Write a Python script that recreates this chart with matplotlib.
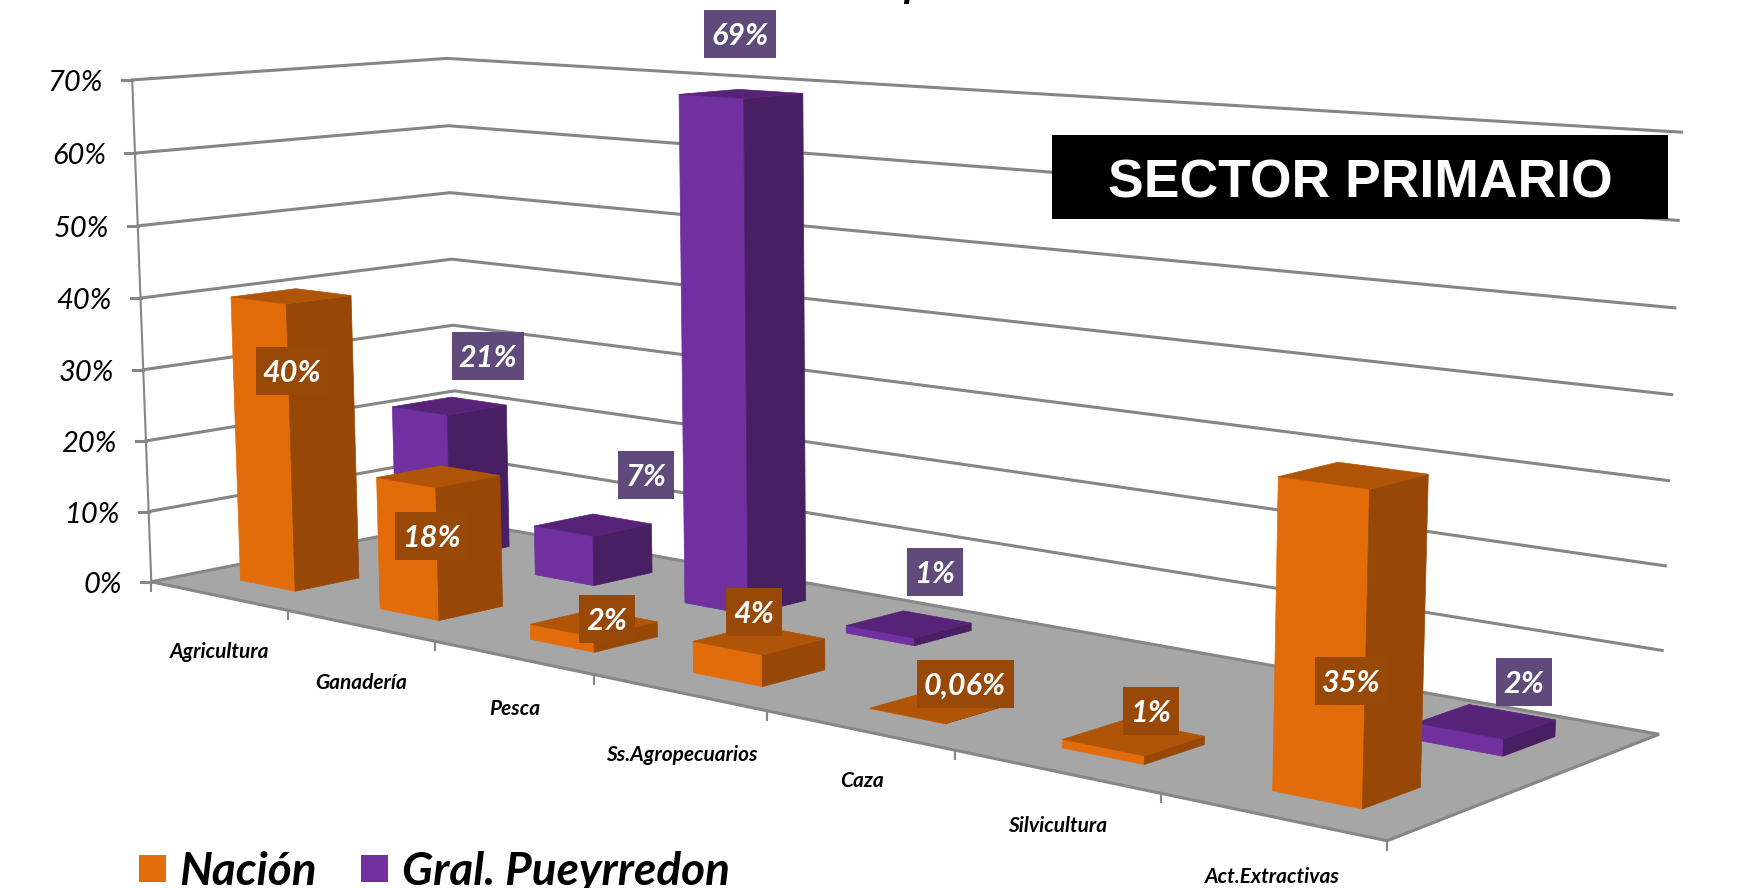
import numpy as np
import matplotlib
matplotlib.use('Agg')
import matplotlib.pyplot as plt
from matplotlib.patches import Polygon, Rectangle

# Chart data
categories = ['Agricultura', 'Ganadería', 'Pesca', 'Ss.Agropecuarios', 'Caza', 'Silvicultura', 'Act.Extractivas']
nacion = [40, 18, 2, 4, 0.06, 1, 35]
pueyrredon = [21, 7, 69, 1, None, None, 2]
nacion_labels = ['40%', '18%', '2%', '4%', '0,06%', '1%', '35%']
pueyrredon_labels = ['21%', '7%', '69%', '1%', None, None, '2%']
y_ticks = [0, 10, 20, 30, 40, 50, 60, 70]
series_names = ['Nación', 'Gral. Pueyrredon']

# Label box centres in picture pixels (moved by hand in the original)
nacion_label_xy = [(292, 371), (431, 536), (607, 619), (754, 612), (965, 684), (1151, 711), (1351, 681)]
pueyrredon_label_xy = [(488, 356), (646, 475), (740, 34), (935, 572), None, None, (1524, 682)]

ORANGE = ('#E36C0A', '#974806', '#B05508')
PURPLE = ('#7030A0', '#481F63', '#562379')
GRID = '#868686'

# Calibration of the 3D view: (category pos, depth, value) -> picture pixels
cal_world = [(0, 0, 0), (7, 0, 0), (7, 1, 0), (0, 1, 0),
             (0, 0, 70), (0, 1, 70), (7, 1, 70),
             (0, 0, 40), (0, 1, 40), (7, 1, 40),
             (1, 0, 0), (2, 0, 0), (3, 0, 0), (4, 0, 0), (5, 0, 0), (6, 0, 0)]
cal_pixel = [(151.8, 580.7), (1387, 840), (1659, 734), (458, 521),
             (132.8, 80), (447.5, 58.7), (1681.4, 132),
             (139.5, 297.7), (450.9, 259), (1671.9, 394.7),
             (288, 610), (435, 642), (594, 676), (767, 711), (956, 751), (1161, 793)]


def fit_camera(world, pixel):
    rows = []
    for (u, v, z), (x, y) in zip(world, pixel):
        w = [u / 7, v, z / 70, 1]
        x, y = x / 1000, y / 1000
        rows.append(w + [0, 0, 0, 0] + [-x * c for c in w])
        rows.append([0, 0, 0, 0] + w + [-y * c for c in w])
    return np.linalg.svd(np.array(rows))[2][-1].reshape(3, 4)


camera = fit_camera(cal_world, cal_pixel)


def project(u, v, z):
    p = camera @ np.array([u / 7, v, z / 70, 1])
    return p[0] / p[2] * 1000, p[1] / p[2] * 1000


def draw_bar(ax, cat, v0, v1, value, colors, zorder):
    u0, u1 = cat + 0.3, cat + 0.7
    front = [project(u0, v0, 0), project(u1, v0, 0), project(u1, v0, value), project(u0, v0, value)]
    side = [project(u1, v0, 0), project(u1, v1, 0), project(u1, v1, value), project(u1, v0, value)]
    top = [project(u0, v0, value), project(u1, v0, value), project(u1, v1, value), project(u0, v1, value)]
    for pts, c in zip((front, side, top), colors):
        ax.add_patch(Polygon(pts, closed=True, fc=c, ec=c, lw=0.5, zorder=zorder))


fig = plt.figure(figsize=(17.5, 8.88), dpi=100)
ax = fig.add_axes([0, 0, 1, 1])
ax.set_xlim(0, 1750)
ax.set_ylim(888, 0)
ax.axis('off')

# floor
floor = [project(0, 0, 0), project(7, 0, 0), project(7, 1, 0), project(0, 1, 0)]
ax.add_patch(Polygon(floor, closed=True, fc='#A6A6A6', ec=GRID, lw=2.2, zorder=1))

# gridlines on the two back walls, value axis and its ticks
for t in y_ticks:
    pts = np.array([project(0, 0, t), project(0, 1, t), project(7, 1, t)])
    if t > 0:
        ax.plot(pts[:, 0], pts[:, 1], color=GRID, lw=2.2, zorder=0.5)
    ax.plot([pts[0, 0] - 10, pts[0, 0]], [pts[0, 1], pts[0, 1]], color=GRID, lw=2.2, zorder=2)
    ax.text(pts[0, 0] - 29, pts[0, 1] + 3, f'{t}%', ha='right', va='center', fontsize=21,
            style='italic', family='Lato', color='black')
axis_pts = np.array([project(0, 0, 0), project(0, 0, 70)])
ax.plot(axis_pts[:, 0], axis_pts[:, 1], color=GRID, lw=1.5, zorder=2)

# category ticks and labels
for i in range(len(categories) + 1):
    x, y = project(i, 0, 0)
    ax.plot([x, x], [y, y + 9], color=GRID, lw=1.5, zorder=2)
label_xy = [(220, 652), (361, 683), (515, 709), (682, 755), (862, 781), (1058, 826), (1272, 877)]
for name, (x, y) in zip(categories, label_xy):
    ax.text(x, y, name, ha='center', va='center', fontsize=15, style='italic', weight='bold',
            family='Lato', color='black')

# bars, back row first so the front row sits over it
for i, val in enumerate(pueyrredon):
    if val is not None:
        draw_bar(ax, i, 0.65, 0.85, val, PURPLE, 3 + i * 0.01)
for i, val in enumerate(nacion):
    draw_bar(ax, i, 0.15, 0.35, val, ORANGE, 4 + i * 0.01)


def data_label(text, xy, color):
    if len(text) == 2:
        width = 56
    elif len(text) == 3:
        width = 72
    else:
        width = 97
    ax.add_patch(Rectangle((xy[0] - width / 2, xy[1] - 24), width, 48, fc=color, ec='none', zorder=6))
    ax.text(xy[0], xy[1] + 2, text, ha='center', va='center', color='white', fontsize=22,
            style='italic', weight='bold', family='Lato', zorder=7)


for text, xy in zip(nacion_labels, nacion_label_xy):
    data_label(text, xy, '#984807')
for text, xy in zip(pueyrredon_labels, pueyrredon_label_xy):
    if text is not None:
        data_label(text, xy, '#604A7B')

# title box
ax.add_patch(Rectangle((1052, 135), 616, 84, fc='black', ec='none', zorder=8))
ax.text(1360, 178, 'SECTOR PRIMARIO', ha='center', va='center_baseline', color='white', fontsize=38.5,
        weight='bold', family='Liberation Sans', zorder=9)

# what is left of the cropped main title
ax.text(903, -3, 'p', ha='left', va='baseline', fontsize=30, style='italic', weight='bold', family='Lato')

# legend
ax.add_patch(Rectangle((139, 855), 27, 27, fc=ORANGE[0], ec='none', zorder=8))
ax.add_patch(Rectangle((361, 855), 27, 27, fc=PURPLE[0], ec='none', zorder=8))
ax.text(179, 872, series_names[0], ha='left', va='center', fontsize=33, style='italic',
        weight='bold', family='Lato', zorder=9)
ax.text(402, 872, series_names[1], ha='left', va='center', fontsize=33, style='italic',
        weight='bold', family='Lato', zorder=9)

fig.savefig('out.png', dpi=100)
